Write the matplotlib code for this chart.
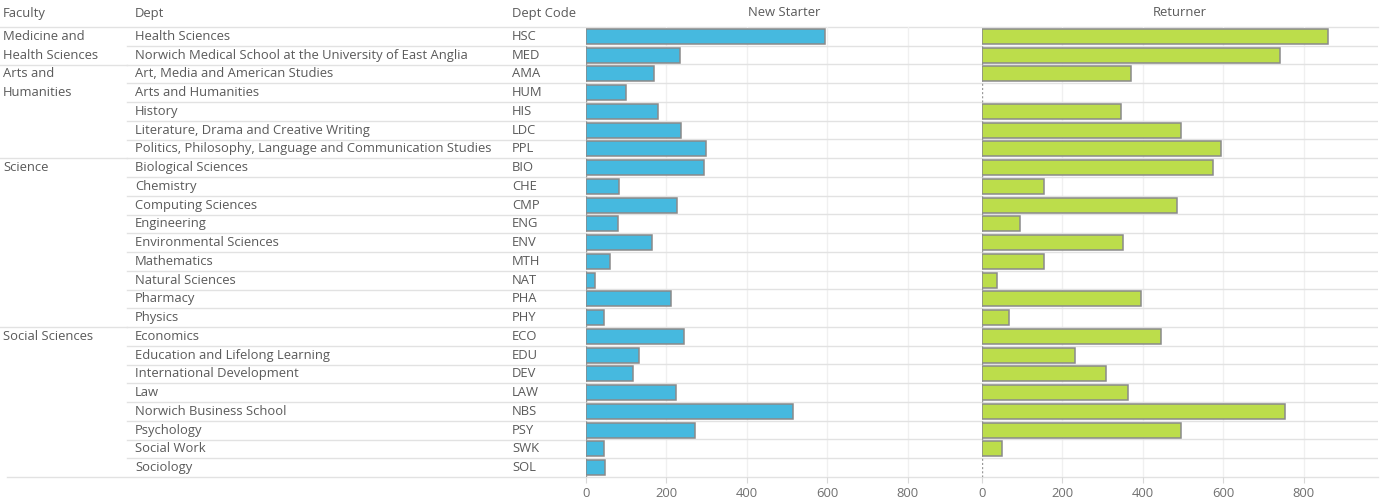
import matplotlib
matplotlib.use("Agg")
import matplotlib.pyplot as plt

plt.rcParams['font.family'] = ['Open Sans', 'DejaVu Sans']

# data
faculties = ["Medicine and\nHealth Sciences", "Arts and\nHumanities", "Science", "Social Sciences"]
faculty_sizes = [2, 5, 9, 8]
depts = ["Health Sciences", "Norwich Medical School at the University of East Anglia",
         "Art, Media and American Studies", "Arts and Humanities", "History",
         "Literature, Drama and Creative Writing",
         "Politics, Philosophy, Language and Communication Studies",
         "Biological Sciences", "Chemistry", "Computing Sciences", "Engineering",
         "Environmental Sciences", "Mathematics", "Natural Sciences", "Pharmacy",
         "Physics", "Economics", "Education and Lifelong Learning",
         "International Development", "Law", "Norwich Business School",
         "Psychology", "Social Work", "Sociology"]
codes = ["HSC", "MED", "AMA", "HUM", "HIS", "LDC", "PPL", "BIO", "CHE", "CMP", "ENG",
         "ENV", "MTH", "NAT", "PHA", "PHY", "ECO", "EDU", "DEV", "LAW", "NBS", "PSY",
         "SWK", "SOL"]
new_starter = [596, 235, 171, 99, 179, 238, 300, 294, 84, 226, 81, 164, 60, 22, 211,
               45, 244, 132, 117, 224, 514, 271, 45, 48]
returner = [860, 741, 370, None, 347, 495, 594, 576, 155, 486, 95, 350, 155, 39, 395,
            69, 445, 232, 309, 363, 753, 495, 51, None]
ticks = [0, 200, 400, 600, 800]

W, H = 1392, 504
TOP, BOT = 27, 477
n = len(depts)
rh = (BOT - TOP) / n
TXT = "#5a5a5a"
LINE = "#e2e2e2"

fig = plt.figure(figsize=(W / 100, H / 100), dpi=100)

# background axes in pixel coordinates for the table part
bg = fig.add_axes([0, 0, 1, 1])
bg.set_xlim(0, W)
bg.set_ylim(H, 0)
bg.axis("off")

fs = 9.4
bg.text(3, 13, "Faculty", fontsize=fs, color=TXT, va="center")
bg.text(135, 13, "Dept", fontsize=fs, color=TXT, va="center")
bg.text(512, 13, "Dept Code", fontsize=fs, color=TXT, va="center")
bg.text((586 + 982) / 2, 13, "New Starter", fontsize=fs, color=TXT, va="center", ha="center")
bg.text((982 + 1378) / 2, 13, "Returner", fontsize=fs, color=TXT, va="center", ha="center")

bg.plot([0, 1378], [TOP, TOP], color=LINE, lw=1)
bg.plot([7, 1378], [BOT, BOT], color=LINE, lw=1)

for i, (d, c) in enumerate(zip(depts, codes)):
    yc = TOP + (i + 0.5) * rh
    bg.text(135, yc, d, fontsize=fs, color=TXT, va="center")
    bg.text(512, yc, c, fontsize=fs, color=TXT, va="center")
    if i > 0:
        bg.plot([127, 586], [TOP + i * rh] * 2, color=LINE, lw=1)

start = 0
for f, k in zip(faculties, faculty_sizes):
    if start > 0:
        bg.plot([0, 127], [TOP + start * rh] * 2, color=LINE, lw=1)
    for j, part in enumerate(f.split("\n")):
        bg.text(3, TOP + (start + j + 0.5) * rh, part, fontsize=fs, color=TXT, va="center")
    start += k


def pane(x0, x1, values, color):
    ax = fig.add_axes([x0 / W, (H - BOT) / H, (x1 - x0) / W, (BOT - TOP) / H])
    ax.set_xlim(0, 985)
    ax.set_ylim(n - 0.5, -0.5)
    ax.patch.set_alpha(0)
    for s in ax.spines.values():
        s.set_visible(False)
    for t in ticks[1:]:
        ax.axvline(t, color="#f0f0f0", lw=1, zorder=0)
    for i in range(1, n):
        ax.axhline(i - 0.5, color=LINE, lw=1, zorder=0)
    ax.axvline(0, color="#999999", lw=1, ls=(0, (1.5, 1.5)), zorder=1)
    ys = [i for i, v in enumerate(values) if v is not None]
    vs = [v for v in values if v is not None]
    ax.barh(ys, vs, height=0.8, color=color, edgecolor="#8a8a8a", lw=1.1, zorder=2)
    ax.set_yticks([])
    ax.set_xticks(ticks)
    ax.set_xticklabels([str(t) for t in ticks])
    ax.tick_params(axis="x", length=4, color="#d8d8d8", labelcolor="#707070",
                   labelsize=fs, pad=3)
    return ax


pane(585.7, 982, new_starter, "#46b9df")
pane(981.7, 1378, returner, "#bcdd4b")

fig.savefig("out.png", dpi=100)
